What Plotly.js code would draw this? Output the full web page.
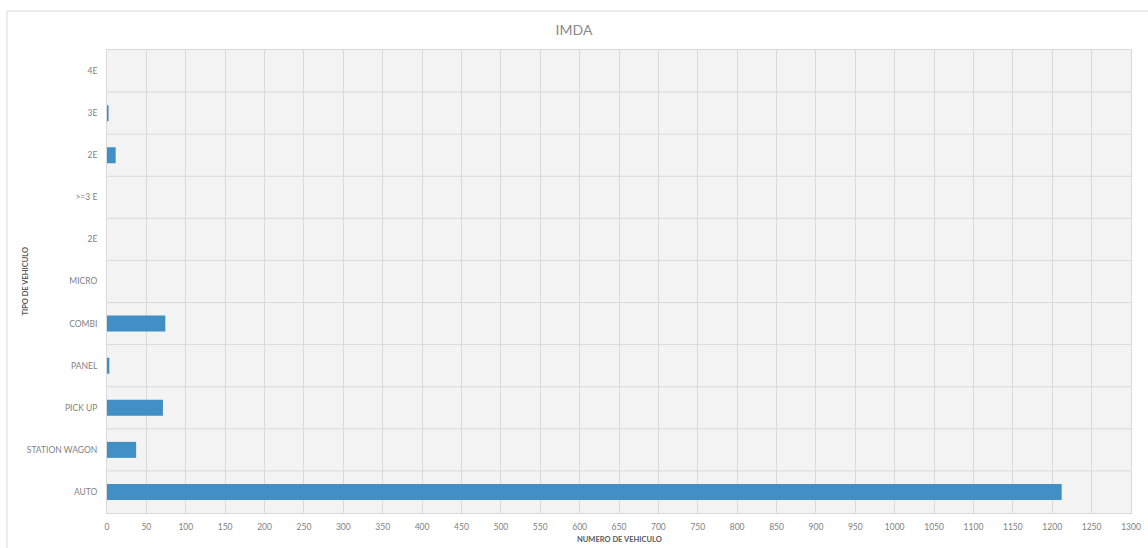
<!DOCTYPE html>
<html>
<head>
<meta charset="utf-8">
<script src="https://cdn.plot.ly/plotly-3.0.1.min.js"></script>
<style>html,body{margin:0;padding:0;background:#fff;}#chart{width:1148px;height:548px;}</style>
</head>
<body>
<div id="chart"></div>
<script>
// Categories from bottom to top
const categories = ["AUTO", "STATION WAGON", "PICK UP", "PANEL", "COMBI", "MICRO", "2E", ">=3 E", "2E", "3E", "4E"];
const values = [1212, 37, 71, 3, 74, 0, 0, 0, 11, 2, 0];
const xTickValues = [0,50,100,150,200,250,300,350,400,450,500,550,600,650,700,750,800,850,900,950,1000,1050,1100,1150,1200,1250,1300];

const positions = categories.map((c, i) => i);
const fontFam = "Lato, 'Open Sans', sans-serif";
const tickFont = {family: fontFam, size: 8.5, color: "#7f7f7f"};
const axisTitleFont = {family: fontFam, size: 7.5, color: "#595959", weight: "bold"};

const trace = {
  type: "bar",
  orientation: "h",
  x: values,
  y: positions,
  width: 0.38,
  marker: {color: "#418fc5", line: {width: 0}},
  hoverinfo: "x"
};

const layout = {
  width: 1148,
  height: 548,
  margin: {l: 107, r: 17, t: 50, b: 35},
  paper_bgcolor: "#ffffff",
  plot_bgcolor: "#f3f3f3",
  showlegend: false,
  title: {text: "IMDA", x: 0.5, xanchor: "center", y: 0.945, yanchor: "middle",
          font: {family: fontFam, size: 14, color: "#8a8a8a"}},
  xaxis: {
    range: [0, 1300],
    tickvals: xTickValues,
    ticktext: xTickValues.map(String),
    tickfont: tickFont,
    showgrid: true,
    gridcolor: "#dadada",
    gridwidth: 1,
    zeroline: false,
    showline: true,
    linecolor: "#d9d9d9",
    mirror: true,
    ticks: "",
    ticklabelstandoff: 6,
    fixedrange: true
  },
  yaxis: {
    range: [-0.5, categories.length - 0.5],
    tickvals: positions,
    ticktext: categories,
    tickfont: tickFont,
    showgrid: false,
    zeroline: false,
    showline: true,
    linecolor: "#d9d9d9",
    mirror: true,
    ticks: "",
    ticklabelstandoff: 7,
    fixedrange: true
  },
  annotations: [
    {text: "TIPO DE VEHICULO", xref: "paper", yref: "paper",
     x: (25 - 107) / 1024, y: 0.5, xanchor: "center", yanchor: "middle",
     textangle: -90, showarrow: false, font: axisTitleFont},
    {text: "NUMERO DE VEHICULO", xref: "paper", yref: "paper",
     x: 0.5, y: (513 - 539) / 463, xanchor: "center", yanchor: "middle",
     showarrow: false, font: axisTitleFont}
  ],
  shapes: [
    // chart frame
    {type: "rect", xref: "paper", yref: "paper",
     x0: (7 - 107) / 1024, x1: (1160 - 107) / 1024,
     y0: (513 - 560) / 463, y1: (513 - 11) / 463,
     line: {color: "#d9d9d9", width: 1}, fillcolor: "rgba(0,0,0,0)", layer: "below"}
  ].concat(positions.slice(0, -1).map(p => ({
    // horizontal gridlines between categories
    type: "line", xref: "paper", yref: "y", x0: 0, x1: 1, y0: p + 0.5, y1: p + 0.5,
    line: {color: "#dadada", width: 1}, layer: "below"
  })))
};

Plotly.newPlot("chart", [trace], layout, {displayModeBar: false, staticPlot: true});
</script>
</body>
</html>
